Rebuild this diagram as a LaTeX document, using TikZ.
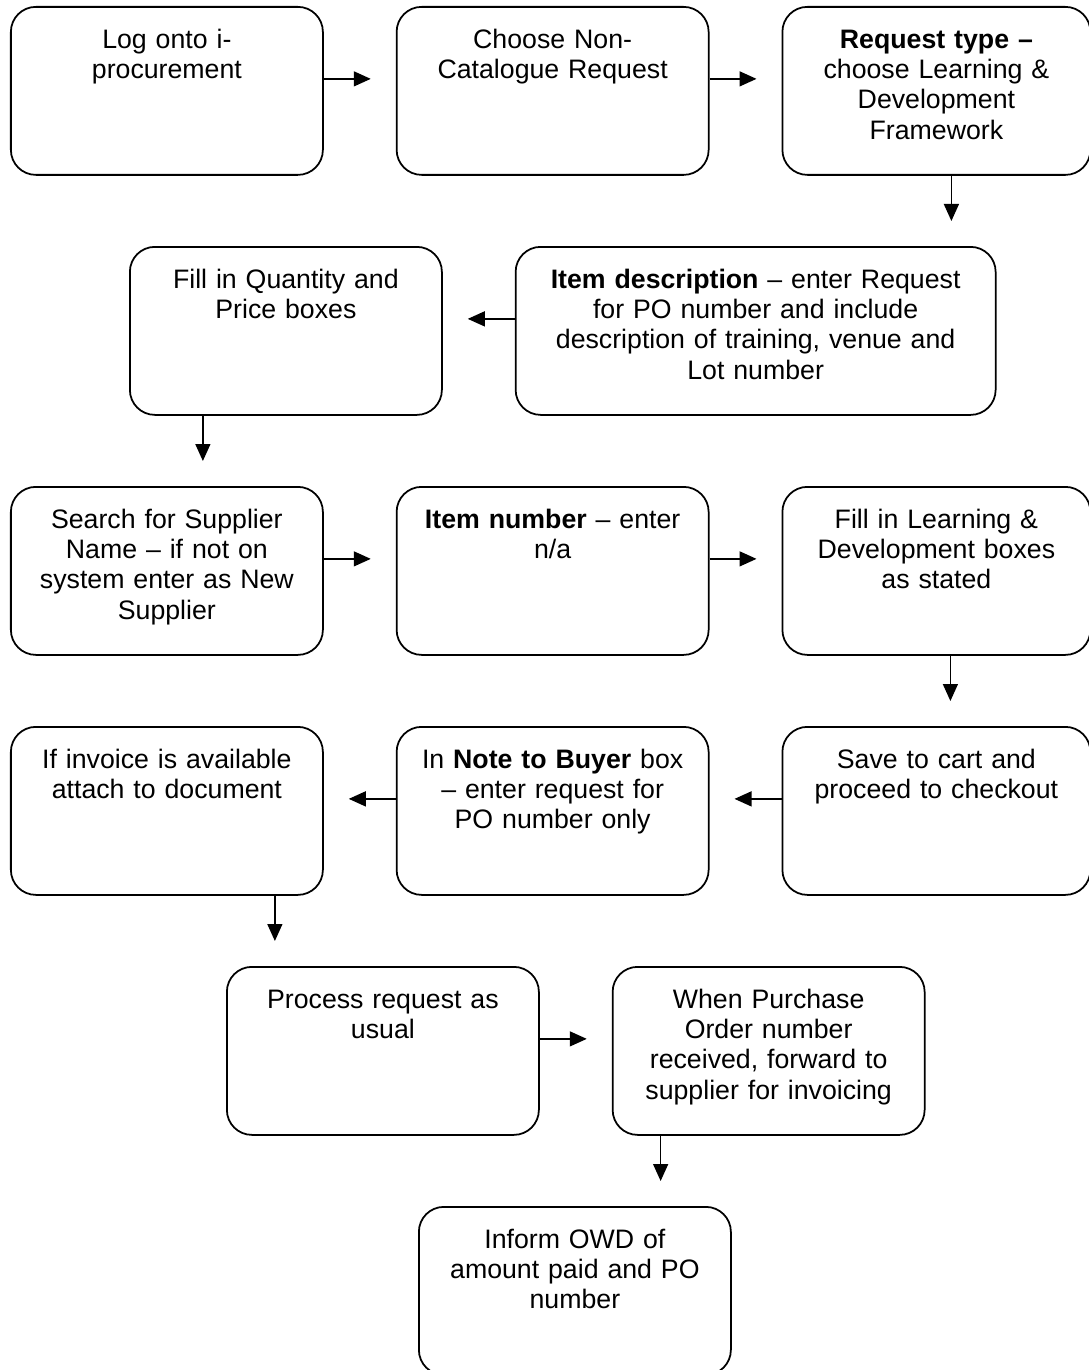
\documentclass[tikz,border=0pt]{standalone}
\usepackage{fontspec}
\setmainfont{Liberation Sans}
\usepackage{tikz}
\usetikzlibrary{arrows.meta,positioning,calc}

\begin{document}
\begin{tikzpicture}[font=\fontsize{15.2}{17.1}\selectfont, box/.style={draw, line width=1pt, rounded corners=0.5cm, align=center, inner sep=0pt, text width=6.24cm, text height=0.84cm, text depth=2.52cm}, arr/.style={-{Triangle[length=0.34cm,width=0.3cm]}, line width=0.8pt, shorten >=0.5cm}]
\useasboundingbox (0,0) rectangle (21.76,-27.4);
% row 1
\node[box, anchor=north west] (login) at (0.2,-0.12) {Log onto i-\\procurement};
\node[box, right=1.44cm of login] (noncat) {Choose Non-\\Catalogue Request};
\node[box, right=1.44cm of noncat, text width=6.16cm] (reqtype) {\textbf{Request type –}\\choose Learning \&\\Development\\Framework};
% row 2
\node[box, anchor=north west] (qtyprice) at (2.58,-4.92) {Fill in Quantity and\\Price boxes};
\node[box, right=1.44cm of qtyprice, text width=9.6cm] (itemdesc) {\textbf{Item description} – enter Request\\for PO number and include\\description of training, venue and\\Lot number};
% row 3
\node[box, anchor=north west] (supplier) at (0.2,-9.72) {Search for Supplier\\Name – if not on\\system enter as New\\Supplier};
\node[box, right=1.44cm of supplier] (itemno) {\textbf{Item number} – enter\\n/a};
\node[box, right=1.44cm of itemno, text width=6.16cm] (ldboxes) {Fill in Learning \&\\Development boxes\\as stated};
% row 4
\node[box, anchor=north west] (invoice) at (0.2,-14.52) {If invoice is available\\attach to document};
\node[box, right=1.44cm of invoice] (notebuyer) {In \textbf{Note to Buyer} box\\– enter request for\\PO number only};
\node[box, right=1.44cm of notebuyer, text width=6.16cm] (cart) {Save to cart and\\proceed to checkout};
% row 5 and 6
\node[box, anchor=north west] (process) at (4.52,-19.32) {Process request as\\usual};
\node[box, right=1.44cm of process] (ponumber) {When Purchase\\Order number\\received, forward to\\supplier for invoicing};
\node[box, anchor=north west] (inform) at (8.36,-24.12) {Inform OWD of\\amount paid and PO\\number};

\draw[arr] ([yshift=0.24cm]login.east) -- ([yshift=0.24cm]noncat.west);
\draw[arr] ([yshift=0.24cm]noncat.east) -- ([yshift=0.24cm]reqtype.west);
\draw[arr] ([xshift=0.3cm]reqtype.south) -- ([xshift=0.3cm]reqtype.south |- itemdesc.north);
\draw[arr] ([yshift=0.24cm]itemdesc.west) -- ([yshift=0.24cm]qtyprice.east);
\draw[arr] ([xshift=-1.66cm]qtyprice.south) -- ([xshift=-1.66cm]qtyprice.south |- supplier.north);
\draw[arr] ([yshift=0.24cm]supplier.east) -- ([yshift=0.24cm]itemno.west);
\draw[arr] ([yshift=0.24cm]itemno.east) -- ([yshift=0.24cm]ldboxes.west);
\draw[arr] ([xshift=0.28cm]ldboxes.south) -- ([xshift=0.28cm]ldboxes.south |- cart.north);
\draw[arr] ([yshift=0.24cm]cart.west) -- ([yshift=0.24cm]notebuyer.east);
\draw[arr] ([yshift=0.24cm]notebuyer.west) -- ([yshift=0.24cm]invoice.east);
\draw[arr] ([xshift=2.16cm]invoice.south) -- ([xshift=2.16cm]invoice.south |- process.north);
\draw[arr] ([yshift=0.24cm]process.east) -- ([yshift=0.24cm]ponumber.west);
\draw[arr] ([xshift=-2.16cm]ponumber.south) -- ([xshift=-2.16cm]ponumber.south |- inform.north);
\end{tikzpicture}
\end{document}
